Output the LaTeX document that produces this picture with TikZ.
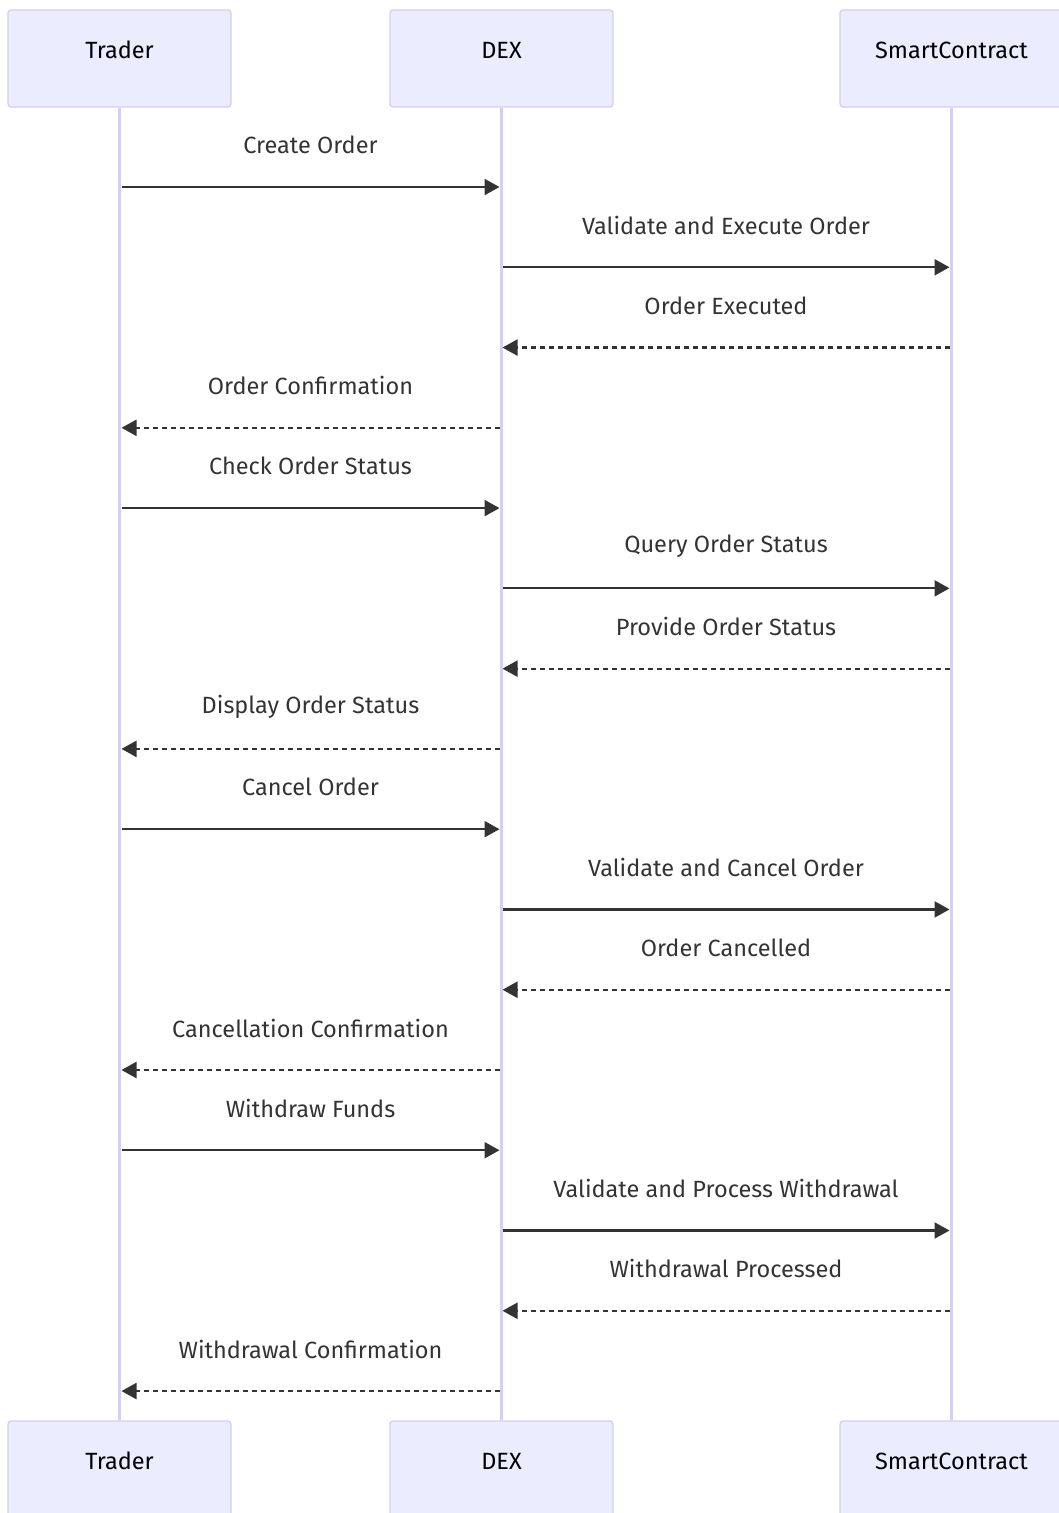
\documentclass[tikz,border=0pt]{standalone}
\usepackage{fontspec}
\setmainfont{Fira Sans}
\usetikzlibrary{arrows.meta}
\definecolor{boxfill}{HTML}{ECECFF}
\definecolor{boxline}{HTML}{D4CCF2}
\definecolor{lifeline}{HTML}{D8CEF4}
\definecolor{msg}{HTML}{333333}
\tikzset{
  actor/.style={draw=boxline, line width=1.2pt, fill=boxfill, rounded corners=3pt,
    minimum width=223pt, minimum height=97pt, inner sep=0pt},
  actortext/.style={font=\fontsize{23.5}{28}\selectfont, text=black, inner sep=0pt},
  life/.style={draw=lifeline, line width=2.2pt},
  lbl/.style={font=\fontsize{23.5}{28}\selectfont, text=msg, inner sep=0pt},
  sync/.style={draw=msg, line width=2.2pt, -{Triangle[length=15pt,width=16pt]}},
  reply/.style={sync, dash pattern=on 5pt off 4pt},
}
\begin{document}
\begin{tikzpicture}[x=1pt,y=-1pt]
\useasboundingbox (0,0) rectangle (1059,1513);
% top actors
\node[actor] (Ttop) at (119.5,58.5) {};
\node[actor] (Dtop) at (501.5,58.5) {};
\node[actor] (Stop) at (951.5,58.5) {};
\node[actortext] (TtopL) at (119.5,50) {Trader};
\node[actortext] (DtopL) at (501.5,50) {DEX};
\node[actortext] (StopL) at (951.5,50) {SmartContract};
% bottom actors
\node[actor] (Tbot) at (119.5,1469.5) {};
\node[actor] (Dbot) at (501.5,1469.5) {};
\node[actor] (Sbot) at (951.5,1469.5) {};
\node[actortext] (TbotL) at (119.5,1461) {Trader};
\node[actortext] (DbotL) at (501.5,1461) {DEX};
\node[actortext] (SbotL) at (951.5,1461) {SmartContract};
% lifelines
\draw[life] (Ttop.south) -- (Tbot.north);
\draw[life] (Dtop.south) -- (Dbot.north);
\draw[life] (Stop.south) -- (Sbot.north);
% messages
\foreach \i/\a/\b/\st/\txt in {
  1/120/501/sync/Create Order,
  2/501/951/sync/Validate and Execute Order,
  3/951/501/reply/Order Executed,
  4/501/120/reply/Order Confirmation,
  5/120/501/sync/Check Order Status,
  6/501/951/sync/Query Order Status,
  7/951/501/reply/Provide Order Status,
  8/501/120/reply/Display Order Status,
  9/120/501/sync/Cancel Order,
  10/501/951/sync/Validate and Cancel Order,
  11/951/501/reply/Order Cancelled,
  12/501/120/reply/Cancellation Confirmation,
  13/120/501/sync/Withdraw Funds,
  14/501/951/sync/Validate and Process Withdrawal,
  15/951/501/reply/Withdrawal Processed,
  16/501/120/reply/Withdrawal Confirmation}{
  \pgfmathsetmacro{\yy}{187+(\i-1)*80.27}
  \pgfmathsetmacro{\xm}{(\a+\b)/2}
  \coordinate (s\i) at (\a,\yy);
  \coordinate (e\i) at (\b,\yy);
  \node[lbl] (l\i) at (\xm,\yy-42) {\txt};
  \draw[\st, shorten <=1.5pt, shorten >=1.5pt] (s\i) -- (e\i);
}
\end{tikzpicture}
\end{document}
